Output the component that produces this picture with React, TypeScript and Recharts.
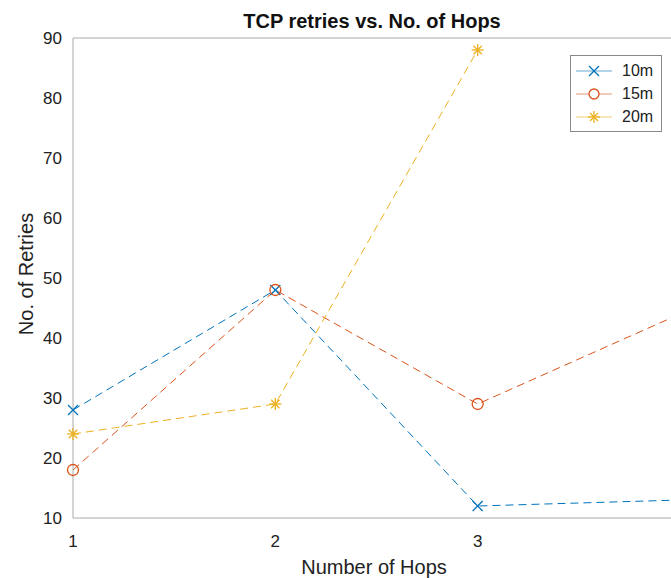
import React from 'react';
import { LineChart, Line, XAxis, YAxis, ReferenceLine } from 'recharts';

const hops = [1, 2, 3, 4];
const tenM = [28, 48, 12, 13];
const fifteenM = [18, 48, 29, 44];
const twentyM: (number | null)[] = [24, 29, 88, null];
const yTicks = [10, 20, 30, 40, 50, 60, 70, 80, 90];
const xTicks = [1, 2, 3];

const C10 = '#0072BD';
const C15 = '#D95319';
const C20 = '#EDB120';

const data = hops.map((h, i) => ({ hop: h, a: tenM[i], b: fifteenM[i], c: twentyM[i] }));

const XMark = (props: any) => {
  const { cx, cy, value } = props;
  if (value == null || cx == null) return null;
  const s = 5;
  return (
    <g key={`x-${cx}`}>
      <line x1={cx - s} y1={cy - s} x2={cx + s} y2={cy + s} stroke={C10} strokeWidth={1.3} />
      <line x1={cx - s} y1={cy + s} x2={cx + s} y2={cy - s} stroke={C10} strokeWidth={1.3} />
    </g>
  );
};
const OMark = (props: any) => {
  const { cx, cy, value } = props;
  if (value == null || cx == null) return null;
  return <circle key={`o-${cx}`} cx={cx} cy={cy} r={5.5} fill="none" stroke={C15} strokeWidth={1.3} />;
};
const StarMark = (props: any) => {
  const { cx, cy, value } = props;
  if (value == null || cx == null) return null;
  const s = 6;
  const d = s * 0.7;
  return (
    <g key={`s-${cx}`} stroke={C20} strokeWidth={1.3}>
      <line x1={cx - s} y1={cy} x2={cx + s} y2={cy} />
      <line x1={cx} y1={cy - s} x2={cx} y2={cy + s} />
      <line x1={cx - d} y1={cy - d} x2={cx + d} y2={cy + d} />
      <line x1={cx - d} y1={cy + d} x2={cx + d} y2={cy - d} />
    </g>
  );
};

const LegendBox = () => {
  const items = [
    { name: '10m', color: C10, kind: 'x' },
    { name: '15m', color: C15, kind: 'o' },
    { name: '20m', color: C20, kind: 's' },
  ];
  return (
    <div style={{ position: 'absolute', left: 570, top: 55, border: '1px solid #888', background: '#fff', width: 90, padding: '3px 0', fontFamily: 'Liberation Sans, Arial, sans-serif', fontSize: 16, color: '#222' }}>
      {items.map((it) => (
        <div key={it.name} style={{ display: 'flex', alignItems: 'center', height: 23 }}>
          <svg width={40} height={16} style={{ marginLeft: 3 }}>
            <line x1={2} y1={8} x2={38} y2={8} stroke={it.color} strokeWidth={1} opacity={0.6} />
            {it.kind === 'x' && (
              <g stroke={it.color} strokeWidth={1.3}>
                <line x1={15} y1={3} x2={25} y2={13} />
                <line x1={15} y1={13} x2={25} y2={3} />
              </g>
            )}
            {it.kind === 'o' && <circle cx={20} cy={8} r={5} fill="#fff" stroke={it.color} strokeWidth={1.3} />}
            {it.kind === 's' && (
              <g stroke={it.color} strokeWidth={1.3}>
                <line x1={14} y1={8} x2={26} y2={8} />
                <line x1={20} y1={2} x2={20} y2={14} />
                <line x1={16} y1={4} x2={24} y2={12} />
                <line x1={16} y1={12} x2={24} y2={4} />
              </g>
            )}
          </svg>
          <span style={{ marginLeft: 8 }}>{it.name}</span>
        </div>
      ))}
    </div>
  );
};

export default function App() {
  const font = 'Liberation Sans, Arial, Helvetica, sans-serif';
  return (
    <div style={{ position: 'absolute', left: 0, top: 0, width: 671, height: 578, overflow: 'hidden', background: '#fff' }}>
      <LineChart width={700} height={578} data={data} margin={{ top: 38, right: 20, bottom: 0, left: 0 }}>
        <XAxis
          dataKey="hop"
          type="number"
          domain={[1, 4]}
          ticks={xTicks}
          stroke="#aaa"
          tickLine={false}
          tick={{ fill: '#222', fontSize: 17, fontFamily: font }}
          tickMargin={11}
          height={60}
        />
        <YAxis
          type="number"
          domain={[10, 90]}
          ticks={yTicks}
          stroke="#aaa"
          tickLine={false}
          tick={{ fill: '#222', fontSize: 17, fontFamily: font }}
          tickMargin={5}
          width={73}
        />
        <ReferenceLine y={90} stroke="#aaa" />
        <Line type="linear" dataKey="a" name="10m" stroke={C10} strokeWidth={1} strokeDasharray="8 5" dot={<XMark />} isAnimationActive={false} />
        <Line type="linear" dataKey="b" name="15m" stroke={C15} strokeWidth={1} strokeDasharray="8 5" dot={<OMark />} isAnimationActive={false} />
        <Line type="linear" dataKey="c" name="20m" stroke={C20} strokeWidth={1} strokeDasharray="8 5" dot={<StarMark />} isAnimationActive={false} />
        <text x={372} y={28} textAnchor="middle" fontFamily={font} fontWeight="bold" fontSize={20} fill="#111">TCP retries vs. No. of Hops</text>
        <text x={374} y={574} textAnchor="middle" fontFamily={font} fontSize={20} fill="#222">Number of Hops</text>
        <text x={33} y={274} textAnchor="middle" fontFamily={font} fontSize={20} fill="#222" transform="rotate(-90 33 274)">No. of Retries</text>
      </LineChart>
      <LegendBox />
    </div>
  );
}
